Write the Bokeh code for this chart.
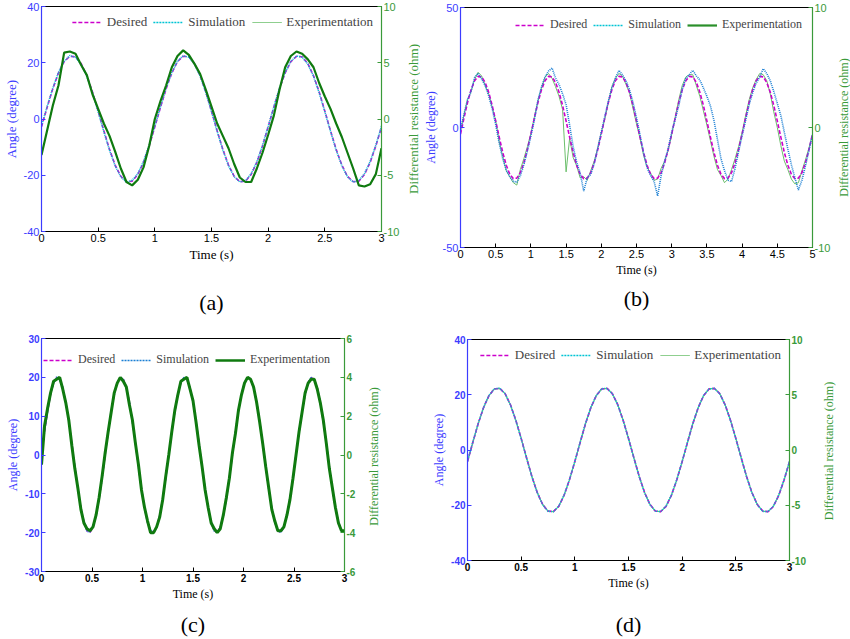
import numpy as np
from bokeh.plotting import figure
from bokeh.models import (Range1d, LinearAxis, Legend, LegendItem,
                          FixedTicker, NumeralTickFormatter)
from bokeh.layouts import row, column
from bokeh.embed import file_html
from bokeh.resources import INLINE

# ---------------- data ----------------
time_a = np.round(np.linspace(0, 3, 61), 3)
time_b = np.round(np.linspace(0, 5, 101), 3)
time_c = np.round(np.linspace(0, 3, 101), 3)
time_d = np.round(np.linspace(0, 3, 61), 3)

desired_a = [-2.8, 4.2, 10.8, 16.4, 20.4, 22.3, 22.1, 19.7, 15.4, 9.6, 2.8, -4.2, -10.8, -16.4, -20.4, -22.3, -22.1, -19.7, -15.4, -9.6,
             -2.8, 4.2, 10.8, 16.4, 20.4, 22.3, 22.1, 19.7, 15.4, 9.6, 2.8, -4.2, -10.8, -16.4, -20.4, -22.3, -22.1, -19.7, -15.4, -9.6,
             -2.8, 4.2, 10.8, 16.4, 20.4, 22.3, 22.1, 19.7, 15.4, 9.6, 2.8, -4.2, -10.8, -16.4, -20.4, -22.3, -22.1, -19.7, -15.4, -9.6,
             -2.8]
simulation_a = [-2.4, 4.5, 11.0, 16.6, 20.5, 22.6, 21.9, 19.4, 15.1, 9.3, 2.5, -4.5, -11.1, -16.7, -20.6, -22.5, -21.8, -19.4, -15.1, -9.3,
                -2.5, 4.4, 11.1, 16.5, 20.6, 22.5, 22.0, 19.5, 15.2, 9.4, 2.6, -4.4, -11.0, -16.6, -20.5, -22.4, -21.9, -19.5, -15.2, -9.4,
                -2.6, 4.3, 11.0, 16.6, 20.5, 22.4, 22.0, 19.5, 15.2, 9.3, 2.6, -4.4, -11.1, -16.6, -20.6, -22.4, -21.9, -19.4, -15.1, -9.3,
                -2.5]
experiment_a = [-3.2, -1.0, 1.2, 3.0, 5.9, 6.0, 5.8, 4.8, 3.9, 2.2, 0.9, -0.4, -1.5, -2.9, -4.4, -5.6, -5.9, -5.4, -4.3, -2.4,
                0.0, 1.6, 3.0, 4.6, 5.6, 6.1, 5.7, 4.9, 4.0, 2.6, 1.1, -0.4, -1.5, -2.6, -4.0, -5.2, -5.6, -5.6, -4.4, -3.0,
                -1.4, 0.3, 2.6, 4.6, 5.6, 6.0, 5.8, 5.3, 4.6, 3.2, 2.0, 0.9, -0.4, -1.6, -3.0, -4.4, -5.9, -6.0, -5.8, -4.9,
                -2.6]

desired_b = [-2.7, 4.0, 10.4, 15.7, 19.5, 21.3, 21.1, 18.8, 14.7, 9.2, 2.7, -4.0, -10.4, -15.7, -19.5, -21.3, -21.1, -18.8, -14.7, -9.2,
             -2.7, 4.0, 10.4, 15.7, 19.5, 21.3, 21.1, 18.8, 14.7, 9.2, 2.7, -4.0, -10.4, -15.7, -19.5, -21.3, -21.1, -18.8, -14.7, -9.2,
             -2.7, 4.0, 10.4, 15.7, 19.5, 21.3, 21.1, 18.8, 14.7, 9.2, 2.7, -4.0, -10.4, -15.7, -19.5, -21.3, -21.1, -18.8, -14.7, -9.2,
             -2.7, 4.0, 10.4, 15.7, 19.5, 21.3, 21.1, 18.8, 14.7, 9.2, 2.7, -4.0, -10.4, -15.7, -19.5, -21.3, -21.1, -18.8, -14.7, -9.2,
             -2.7, 4.0, 10.4, 15.7, 19.5, 21.3, 21.1, 18.8, 14.7, 9.2, 2.7, -4.0, -10.4, -15.7, -19.5, -21.3, -21.1, -18.8, -14.7, -9.2,
             -2.7]
simulation_b = [-1.0, 5.5, 11.8, 14.9, 20.8, 22.6, 20.2, 17.5, 13.2, 7.8, 1.2, -6.5, -13.0, -17.8, -20.6, -22.4, -22.8, -20.1, -15.5, -9.8,
                -3.5, 3.2, 11.5, 16.8, 21.0, 23.5, 24.8, 20.6, 17.9, 14.0, 9.5, 1.0, -8.0, -14.5, -19.0, -26.5, -21.0, -19.5, -15.0, -8.5,
                -2.0, 4.6, 11.0, 16.5, 20.5, 23.8, 22.0, 19.5, 15.8, 10.5, 4.0, -3.0, -10.5, -16.8, -20.0, -22.5, -28.5, -20.0, -14.0, -8.8,
                -2.0, 3.5, 9.0, 16.0, 20.5, 22.0, 23.8, 21.5, 19.8, 16.5, 13.0, 9.0, 3.0, -5.0, -13.0, -18.0, -22.0, -22.5, -17.0, -10.0,
                -3.5, 3.0, 9.5, 14.5, 18.5, 21.0, 24.5, 22.5, 19.5, 15.0, 10.0, 5.0, -2.0, -9.0, -15.5, -21.0, -26.0, -22.0, -16.0, -9.5,
                -3.0]
experiment_b = [-0.3, 1.1, 2.3, 3.0, 4.0, 4.6, 4.3, 3.5, 2.8, 1.7, 0.6, -1.2, -2.4, -3.6, -4.1, -4.6, -4.8, -3.5, -2.6, -1.6,
                -0.5, 0.9, 2.2, 3.3, 4.2, 4.5, 4.1, 3.4, 2.6, 1.5, -3.7, -0.9, -2.5, -3.2, -4.2, -4.1, -4.4, -3.6, -2.8, -1.7,
                -0.4, 0.7, 2.1, 3.4, 4.1, 4.5, 4.3, 3.6, 2.9, 1.6, 0.3, -0.9, -2.3, -3.3, -3.8, -4.4, -4.3, -3.4, -2.8, -1.9,
                -0.6, 0.9, 2.3, 3.5, 4.2, 4.4, 4.4, 3.5, 2.6, 1.4, 0.2, -1.1, -2.4, -3.5, -4.0, -4.6, -4.3, -3.5, -2.6, -1.6,
                -0.4, 1.0, 2.3, 3.3, 4.0, 4.5, 4.4, 3.9, 2.8, 1.3, 0.0, -1.5, -2.8, -3.5, -4.3, -4.7, -4.6, -3.6, -2.7, -1.7,
                -0.6]

desired_c = [0.0, 5.9, 11.3, 15.6, 18.6, 19.9, 19.5, 17.3, 13.6, 8.7, 3.0, -3.0, -8.7, -13.6, -17.3, -19.5, -19.9, -18.6, -15.6, -11.3, -5.9,
             0.0, 5.9, 11.3, 15.6, 18.6, 19.9, 19.5, 17.3, 13.6, 8.7, 3.0, -3.0, -8.7, -13.6, -17.3, -19.5, -19.9, -18.6, -15.6, -11.3, -5.9,
             0.0, 5.9, 11.3, 15.6, 18.6, 19.9, 19.5, 17.3, 13.6, 8.7, 3.0, -3.0, -8.7, -13.6, -17.3, -19.5, -19.9, -18.6, -15.6, -11.3, -5.9,
             0.0, 5.9, 11.3, 15.6, 18.6, 19.9, 19.5, 17.3, 13.6, 8.7, 3.0, -3.0, -8.7, -13.6, -17.3, -19.5, -19.9, -18.6, -15.6, -11.3, -5.9,
             0.0, 5.9, 11.3, 15.6, 18.6, 19.9, 19.5, 17.3, 13.6, 8.7, 3.0, -3.0, -8.7, -13.6, -17.3, -19.5, -19.9]
simulation_c = [0.3, 6.1, 11.0, 15.9, 18.4, 20.1, 19.3, 17.5, 13.4, 8.9, 2.8, -3.2, -8.5, -13.8, -17.1, -19.7, -19.8, -18.4, -15.8, -11.1, -6.1,
                0.2, 5.7, 11.5, 15.4, 18.8, 19.8, 19.6, 17.1, 13.8, 8.5, 3.2, -2.8, -8.9, -13.4, -17.5, -19.3, -20.1, -18.5, -15.7, -11.2, -5.8,
                -0.2, 6.0, 11.2, 15.7, 18.5, 20.0, 19.4, 17.4, 13.5, 8.8, 2.9, -3.1, -8.6, -13.7, -17.2, -19.6, -19.8, -18.7, -15.5, -11.4, -5.9,
                0.1, 5.8, 11.4, 15.5, 18.7, 19.9, 19.6, 17.2, 13.7, 8.6, 3.1, -2.9, -8.8, -13.5, -17.4, -19.4, -20.0, -18.5, -15.7, -11.2, -6.0,
                0.1, 5.9, 11.2, 15.7, 18.5, 20.0, 19.4, 17.4, 13.5, 8.8, 2.9, -3.1, -8.6, -13.7, -17.2, -19.6, -19.8]
experiment_c = [-0.5, 1.5, 2.4, 3.2, 3.8, 3.9, 4.0, 3.4, 2.7, 1.8, 0.5, -0.7, -1.7, -2.8, -3.5, -3.8, -3.9, -3.7, -3.1, -2.2, -1.1,
                0.1, 1.2, 2.2, 3.2, 3.7, 4.0, 3.8, 3.5, 2.6, 1.8, 0.6, -0.5, -1.8, -2.7, -3.4, -4.0, -4.0, -3.7, -3.2, -2.3, -1.1,
                0.0, 1.2, 2.3, 3.1, 3.8, 3.9, 4.0, 3.4, 2.8, 1.7, 0.5, -0.6, -1.8, -2.7, -3.5, -3.8, -4.0, -3.8, -3.1, -2.2, -1.2,
                0.1, 1.1, 2.3, 3.1, 3.7, 4.0, 3.9, 3.5, 2.7, 1.7, 0.6, -0.6, -1.7, -2.8, -3.4, -3.9, -3.9, -3.7, -3.1, -2.3, -1.2,
                0.0, 1.2, 2.2, 3.2, 3.7, 3.9, 3.9, 3.4, 2.7, 1.8, 0.6, -0.7, -1.7, -2.7, -3.5, -3.9, -3.9]

desired_d = [-4.2, 2.8, 9.6, 15.4, 19.7, 22.1, 22.3, 20.4, 16.4, 10.8, 4.2, -2.8, -9.6, -15.4, -19.7, -22.1, -22.3, -20.4, -16.4, -10.8,
             -4.2, 2.8, 9.6, 15.4, 19.7, 22.1, 22.3, 20.4, 16.4, 10.8, 4.2, -2.8, -9.6, -15.4, -19.7, -22.1, -22.3, -20.4, -16.4, -10.8,
             -4.2, 2.8, 9.6, 15.4, 19.7, 22.1, 22.3, 20.4, 16.4, 10.8, 4.2, -2.8, -9.6, -15.4, -19.7, -22.1, -22.3, -20.4, -16.4, -10.8,
             -4.2]
simulation_d = [-4.1, 2.9, 9.7, 15.4, 19.8, 22.1, 22.4, 20.4, 16.3, 10.7, 4.1, -2.9, -9.7, -15.5, -19.8, -22.2, -22.3, -20.3, -16.3, -10.7,
                -4.1, 2.9, 9.7, 15.5, 19.7, 22.2, 22.3, 20.3, 16.3, 10.7, 4.1, -2.9, -9.7, -15.5, -19.8, -22.1, -22.3, -20.3, -16.3, -10.7,
                -4.1, 2.9, 9.7, 15.4, 19.8, 22.1, 22.3, 20.4, 16.3, 10.7, 4.1, -2.9, -9.7, -15.5, -19.8, -22.2, -22.3, -20.3, -16.3, -10.7,
                -4.1]
experiment_d = [-1.05, 0.7, 2.4, 3.85, 4.93, 5.53, 5.58, 5.1, 4.1, 2.7, 1.05, -0.7, -2.4, -3.85, -4.93, -5.53, -5.58, -5.1, -4.1, -2.7,
                -1.05, 0.7, 2.4, 3.85, 4.93, 5.53, 5.58, 5.1, 4.1, 2.7, 1.05, -0.7, -2.4, -3.85, -4.93, -5.53, -5.58, -5.1, -4.1, -2.7,
                -1.05, 0.7, 2.4, 3.85, 4.93, 5.53, 5.58, 5.1, 4.1, 2.7, 1.05, -0.7, -2.4, -3.85, -4.93, -5.53, -5.58, -5.1, -4.1, -2.7,
                -1.05]

ticks_x_3 = [0, 0.5, 1, 1.5, 2, 2.5, 3]
ticks_x_5 = [0, 0.5, 1, 1.5, 2, 2.5, 3, 3.5, 4, 4.5, 5]
ticks_left_a = [-40, -20, 0, 20, 40]
ticks_right_a = [-10, -5, 0, 5, 10]
ticks_left_b = [-50, 0, 50]
ticks_right_b = [-10, 0, 10]
ticks_left_c = [-30, -20, -10, 0, 10, 20, 30]
ticks_right_c = [-6, -4, -2, 0, 2, 4, 6]
ticks_left_d = [-40, -20, 0, 20, 40]
ticks_right_d = [-10, -5, 0, 5, 10]

legend_labels = ["Desired", "Simulation", "Experimentation"]
captions = ["(a)", "(b)", "(c)", "(d)"]
x_title = "Time (s)"
left_title = "Angle (degree)"
right_title = "Differential resistance (ohm)"

# ---------------- styling ----------------
BLUE = "#3c3cff"
GREEN = "#3a9a3a"
MAGENTA = "#cc00cc"
CYAN = "#00c4d4"
SIMBLUE = "#1a7fd4"
DKGREEN = "#0f7a0f"
LTGREEN = "#6cbf6c"
SERIF = "Liberation Serif"
SANS = "Liberation Sans"


def style_axis(ax, color, label_size, tick_size, tick_style):
    ax.axis_line_color = color
    ax.axis_line_width = 1.2
    ax.major_tick_line_color = color
    ax.minor_tick_line_color = None
    ax.major_tick_in = 4
    ax.major_tick_out = 0
    ax.major_label_text_color = color
    ax.major_label_text_font = SANS
    ax.major_label_text_font_size = tick_size
    ax.major_label_text_font_style = tick_style
    ax.axis_label_text_color = color
    ax.axis_label_text_font = SERIF
    ax.axis_label_text_font_size = label_size
    ax.axis_label_text_font_style = "normal"
    ax.axis_label_standoff = 2
    ax.major_label_standoff = 2
    ax.formatter = NumeralTickFormatter(format="0.[0]")


def label_only_axis(text, color, size, standoff, **kw):
    ax = LinearAxis(ticker=FixedTicker(ticks=[]), axis_label=text, **kw)
    ax.axis_line_color = None
    ax.major_tick_line_color = None
    ax.minor_tick_line_color = None
    ax.major_tick_in = 0
    ax.major_tick_out = 0
    ax.minor_tick_in = 0
    ax.minor_tick_out = 0
    ax.major_label_standoff = 0
    ax.axis_label_text_color = color
    ax.axis_label_text_font = SERIF
    ax.axis_label_text_font_size = size
    ax.axis_label_text_font_style = "normal"
    ax.axis_label_standoff = standoff
    return ax


def make_panel(cfg):
    p = figure(width=cfg["w"], height=cfg["h"],
               x_range=Range1d(cfg["xr"][0], cfg["xr"][1]),
               y_range=Range1d(cfg["yl"][0], cfg["yl"][1]),
               output_backend="svg", toolbar_location=None,
               min_border_left=cfg["mb"][0], min_border_right=cfg["mb"][1],
               min_border_top=cfg["mb"][2], min_border_bottom=cfg["mb"][3],
               x_axis_label=x_title, y_axis_label=left_title)
    yr = cfg["yr"]
    p.extra_y_ranges = {"r": Range1d(yr[0], yr[1])}
    p.xgrid.visible = False
    p.ygrid.visible = False
    p.outline_line_color = "black"
    p.outline_line_width = 1

    ra = LinearAxis(y_range_name="r")
    p.add_layout(ra, "right")

    p.xaxis.ticker = FixedTicker(ticks=cfg["xt"])
    p.yaxis[0].ticker = FixedTicker(ticks=cfg["ylt"])
    ra.ticker = FixedTicker(ticks=cfg["yrt"])
    style_axis(p.xaxis[0], "black", cfg["lab"], cfg["tick"], cfg["ts"])
    style_axis(p.yaxis[0], BLUE, cfg["lab"], cfg["tick"], cfg["ts"])
    style_axis(ra, GREEN, cfg["lab"], cfg["tick"], cfg["ts"])

    # panel caption as a label-only axis under the time axis
    cap = label_only_axis(cfg["cap"], "black", "22px", cfg["cap_off"])
    p.add_layout(cap, "below")

    t = cfg["t"]
    ex = cfg["exp_style"]
    if cfg["exp_first"]:
        p.line(t, cfg["exp"], y_range_name="r", line_color=ex[0], line_width=ex[1])
    p.line(t, cfg["des"], line_color=MAGENTA, line_width=1.6, line_dash="4 2")
    p.line(t, cfg["sim"], line_color=cfg["sim_color"], line_width=1.6, line_dash="1 1")
    if not cfg["exp_first"]:
        p.line(t, cfg["exp"], y_range_name="r", line_color=ex[0], line_width=ex[1])

    # legend proxies (no visible data, only legend swatches)
    lg = cfg["leg_style"]
    nan2 = [np.nan, np.nan]
    r1 = p.line(nan2, nan2, line_color=MAGENTA, line_width=1.6, line_dash="4 2")
    r2 = p.line(nan2, nan2, line_color=lg[0], line_width=1.6, line_dash="2 1")
    r3 = p.line(nan2, nan2, line_color=lg[1], line_width=lg[2])
    legend = Legend(items=[LegendItem(label=legend_labels[0], renderers=[r1]),
                           LegendItem(label=legend_labels[1], renderers=[r2]),
                           LegendItem(label=legend_labels[2], renderers=[r3])],
                    orientation="horizontal", location="top_right",
                    background_fill_alpha=0, border_line_alpha=0,
                    label_text_font=SERIF, label_text_font_size=cfg["leg_size"],
                    glyph_width=30, glyph_height=10, label_height=10,
                    label_standoff=5, spacing=6, padding=2,
                    margin=cfg["leg_margin"])
    p.add_layout(legend)

    # narrow companion canvas carrying the right-hand title (reads bottom-to-top)
    q = figure(width=cfg["qw"], height=cfg["h"],
               x_range=Range1d(0, 1), y_range=Range1d(0, 1),
               output_backend="svg", toolbar_location=None,
               min_border_left=0, min_border_right=0,
               min_border_top=cfg["mb"][2], min_border_bottom=cfg["mb"][3])
    q.xaxis.visible = False
    q.yaxis.visible = False
    q.outline_line_color = None
    q.xgrid.visible = False
    q.ygrid.visible = False
    q.add_layout(label_only_axis(right_title, GREEN, cfg["lab"], 0), "left")
    return row(column(p), column(q))


pa = make_panel(dict(w=402, qw=18, h=320, xr=(0, 3), yl=(-40, 40), yr=(-10, 10),
                     xt=ticks_x_3, ylt=ticks_left_a, yrt=ticks_right_a,
                     mb=(36, 21, 6, 89), lab="13px", tick="11px", ts="normal",
                     t=time_a, des=desired_a, sim=simulation_a, exp=experiment_a,
                     sim_color=CYAN, exp_style=(DKGREEN, 2.2), exp_first=False,
                     leg_style=(CYAN, "#8fcf8f", 1.2), leg_size="13px", leg_margin=6,
                     cap=captions[0], cap_off=25))
pb = make_panel(dict(w=414, qw=16, h=320, xr=(0, 5), yl=(-50, 50), yr=(-10, 10),
                     xt=ticks_x_5, ylt=ticks_left_b, yrt=ticks_right_b,
                     mb=(37, 22, 7, 73), lab="12px", tick="11px", ts="normal",
                     t=time_b, des=desired_b, sim=simulation_b, exp=experiment_b,
                     sim_color=SIMBLUE, exp_style=(LTGREEN, 1.0), exp_first=True,
                     leg_style=(CYAN, "#2a8f2a", 2.2), leg_size="12px", leg_margin=8,
                     cap=captions[1], cap_off=6))
pc = make_panel(dict(w=363, qw=57, h=319, xr=(0, 3), yl=(-30, 30), yr=(-6, 6),
                     xt=ticks_x_3, ylt=ticks_left_c, yrt=ticks_right_c,
                     mb=(41, 19, 18, 65), lab="12px", tick="10px", ts="bold",
                     t=time_c, des=desired_c, sim=simulation_c, exp=experiment_c,
                     sim_color=SIMBLUE, exp_style=(DKGREEN, 3.0), exp_first=False,
                     leg_style=(SIMBLUE, DKGREEN, 2.5), leg_size="12px", leg_margin=12,
                     cap=captions[2], cap_off=8))
pd = make_panel(dict(w=398, qw=32, h=319, xr=(0, 3), yl=(-40, 40), yr=(-10, 10),
                     xt=ticks_x_3, ylt=ticks_left_d, yrt=ticks_right_d,
                     mb=(47, 29, 19, 77), lab="12px", tick="10px", ts="bold",
                     t=time_d, des=desired_d, sim=simulation_d, exp=experiment_d,
                     sim_color=CYAN, exp_style=(LTGREEN, 1.2), exp_first=True,
                     leg_style=(CYAN, "#8fcf8f", 1.2), leg_size="13px", leg_margin=6,
                     cap=captions[3], cap_off=19))

layout = column(row(pa, pb), row(pc, pd))
open("out.html", "w").write(file_html(layout, INLINE))
